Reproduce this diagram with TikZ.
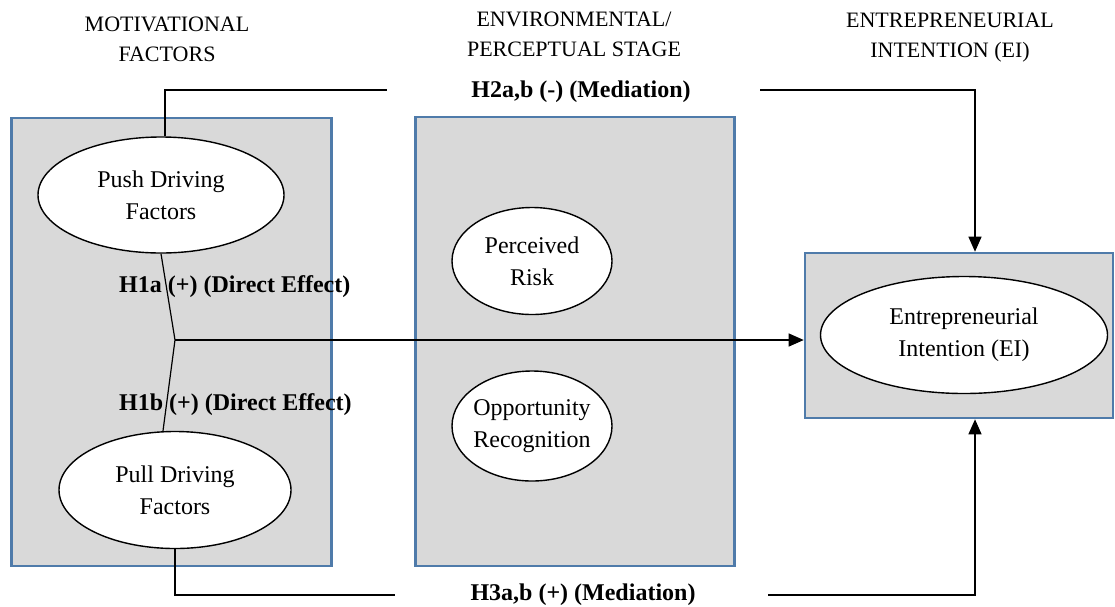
\documentclass[tikz,border=0pt]{standalone}
\usepackage{fontspec}
\setmainfont{Liberation Serif}
\usetikzlibrary{shapes.geometric,arrows.meta,calc}
\definecolor{boxfill}{RGB}{217,217,217}
\definecolor{boxline}{RGB}{79,123,170}
\begin{document}
\begin{tikzpicture}[x=1pt,y=-1pt,
  stagebox/.style={draw=boxline,line width=2.6pt,fill=boxfill,inner sep=0pt},
  construct/.style={ellipse,draw=black,line width=1.4pt,fill=white,inner sep=0pt,align=center,font=\fontsize{24}{32}\selectfont},
  header/.style={inner sep=0pt,anchor=north,align=center,font=\fontsize{22}{30}\selectfont},
  hyp/.style={inner sep=0pt,font=\bfseries\fontsize{24}{28}\selectfont},
  conn/.style={line width=1.2pt,draw=black},
  arr/.style={conn,-{Triangle[length=15pt,width=13pt]}}]
\useasboundingbox (0,0) rectangle (1115,606);
% headers
\node[header] (hmot) at (167,17) {MOTIVATIONAL\\FACTORS};
\node[header] (henv) at (574,12) {ENVIRONMENTAL/\\PERCEPTUAL STAGE};
\node[header] (hent) at (950,13) {ENTREPRENEURIAL\\INTENTION (EI)};
% stage boxes
\node[stagebox,minimum width=320pt,minimum height=448pt] (motbox) at (171.5,342) {};
\node[stagebox,minimum width=319pt,minimum height=449pt] (envbox) at (575,341.5) {};
\node[stagebox,minimum width=308pt,minimum height=165pt] (eibox) at (959,335.5) {};
% hypothesis labels
\node[hyp] (h2) at (581,92) {H2a,b (-) (Mediation)};
\node[hyp] (h3) at (583,595) {H3a,b (+) (Mediation)};
\node[hyp,anchor=west] (h1a) at (119,287) {H1a (+) (Direct Effect)};
\node[hyp,anchor=west] (h1b) at (119,405) {H1b (+) (Direct Effect)};
% constructs
\node[construct,minimum width=246pt,minimum height=116pt] (push) at (161,195) {Push Driving\\Factors};
\node[construct,minimum width=232pt,minimum height=117pt] (pull) at (175,490) {Pull Driving\\Factors};
\node[construct,minimum width=160pt,minimum height=107pt] (risk) at (532,261) {Perceived\\Risk};
\node[construct,inner xsep=-3pt,minimum width=160pt,minimum height=110pt] (opp) at (532,426) {Opportunity\\Recognition};
\node[construct,minimum width=287pt,minimum height=117pt] (ei) at (964,335) {Entrepreneurial\\Intention (EI)};
% coordinates
\coordinate (J) at (175,340);
\coordinate (t1) at (387,90);
\coordinate (t2) at (760,90);
\coordinate (b1) at (395,595);
\coordinate (b2) at (768,595);
\coordinate (eitop) at ($(eibox.north)+(16,0)$);
\coordinate (eibot) at ($(eibox.south)+(16,0)$);
% connectors
\draw[conn] (push.south) -- (J) -- ($(pull.north)+(-12,0)$);
\draw[arr] (J) -- (J -| eibox.west);
\draw[conn] ($(push.north)+(4,0)$) |- (t1);
\draw[arr] (t2) -| (eitop);
\draw[conn] (pull.south) |- (b1);
\draw[arr] (b2) -| (eibot);
\end{tikzpicture}
\end{document}
